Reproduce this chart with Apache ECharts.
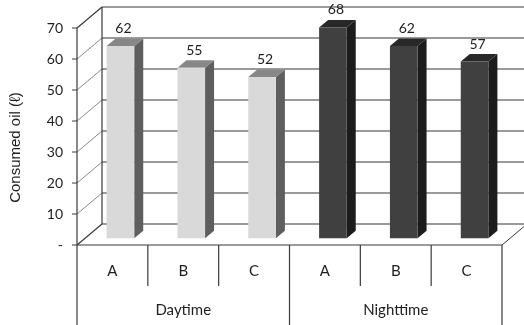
<!DOCTYPE html>
<html>
<head>
<meta charset="utf-8">
<script src="https://cdn.jsdelivr.net/npm/echarts@6/dist/echarts.min.js"></script>
<style>
  html, body { margin: 0; padding: 0; background: #ffffff; }
  #chart { width: 524px; height: 325px; }
</style>
</head>
<body>
<div id="chart"></div>
<script>
// Oil consumed per vehicle, grouped by time of day
const categories = ['A', 'B', 'C', 'A', 'B', 'C'];
const groups = ['Daytime', 'Nighttime'];
const groupSize = 3;
const consumedOil = [62, 55, 52, 68, 62, 57];
const yTicks = [0, 10, 20, 30, 40, 50, 60, 70];
const yTickLabels = ['-', '10', '20', '30', '40', '50', '60', '70'];

// 3-D look: offset of the back wall and the bar slab inside the depth
const DX = 25, DY = -21;
const BAR_W = 0.39, BAR_D0 = 0.32, BAR_D1 = 0.68;
const LABEL_FONT = 'Lato, "Open Sans", sans-serif';

const palettes = [
  { front: '#d9d9d9', side: '#5e5e5e', top: '#878787' },
  { front: '#404040', side: '#1c1c1c', top: '#282828' }
];

const chart = echarts.init(document.getElementById('chart'), null, { renderer: 'canvas' });

function renderFrame(params, api) {
  const band = api.size([1, 0])[0];
  const left = api.coord([0, 0])[0] - band / 2;
  const right = left + band * categories.length;
  const yOf = v => api.coord([0, v])[1];
  const yMin = yTicks[0], yMax = yTicks[yTicks.length - 1];
  const bottom = yOf(yMin), top = yOf(yMax);
  const children = [];
  const line = (x1, y1, x2, y2, stroke, w) => children.push({
    type: 'line', silent: true,
    shape: { x1, y1, x2, y2 },
    style: { stroke, lineWidth: w }
  });
  const DARK = '#3a3a3a', GRID = '#9a9a9a', SIDE = '#8a8a8a';

  yTicks.forEach(v => {
    const y = yOf(v);
    const edge = (v === yMin || v === yMax);
    // back wall gridline
    line(left + DX, y + DY, right + DX + 10, y + DY, v === yMax ? DARK : GRID, v === yMax ? 1.2 : 1.8);
    // side wall gridline
    line(left, y, left + DX, y + DY, edge ? DARK : SIDE, edge ? 1.2 : 1);
    // tick on the front axis
    line(left - 5, y, left, y, DARK, 1);
  });
  // back corner of the side wall
  line(left + DX, top + DY, left + DX, bottom + DY, DARK, 1.2);
  // floor
  line(left, bottom, right, bottom, DARK, 1.2);
  line(right, bottom, right + DX, bottom + DY, DARK, 1);

  // category dividers under the floor
  const inner = 286 - bottom;
  const outer = 325 - bottom;
  for (let i = 0; i <= categories.length; i++) {
    const x = left + band * i;
    const isGroupEdge = i % groupSize === 0;
    line(x, isGroupEdge && i === 0 ? top : bottom, x, bottom + (isGroupEdge ? outer : inner), DARK, 1.2);
  }
  // group names
  groups.forEach((g, gi) => {
    const cx = left + band * (gi * groupSize + groupSize / 2);
    children.push({
      type: 'text', silent: true,
      style: {
        x: cx, y: bottom + 65, text: g,
        fill: '#1e1e1e', font: '15px ' + LABEL_FONT,
        align: 'center', verticalAlign: 'middle'
      }
    });
  });
  return { type: 'group', children };
}

function renderBar(params, api) {
  const idx = api.value(0);
  const val = api.value(1);
  const band = api.size([1, 0])[0];
  const base = api.coord([idx, 0]);
  const topPt = api.coord([idx, val]);
  const w = band * BAR_W;
  const ox = DX * BAR_D0, oy = DY * BAR_D0;
  const dx = DX * (BAR_D1 - BAR_D0), dy = DY * (BAR_D1 - BAR_D0);
  const x0 = base[0] - w / 2 + ox;
  const x1 = x0 + w;
  const yb = base[1] + oy;
  const yt = topPt[1] + oy;
  const pal = palettes[Math.floor(idx / groupSize)];
  return {
    type: 'group',
    children: [
      { type: 'polygon', shape: { points: [[x1, yt], [x1, yb], [x1 + dx, yb + dy], [x1 + dx, yt + dy]] },
        style: { fill: pal.side } },
      { type: 'polygon', shape: { points: [[x0, yt], [x1, yt], [x1 + dx, yt + dy], [x0 + dx, yt + dy]] },
        style: { fill: pal.top } },
      { type: 'rect', shape: { x: x0, y: yt, width: w, height: yb - yt },
        style: { fill: pal.front } },
      { type: 'text', silent: true,
        style: {
          x: (x0 + x1) / 2 + 3, y: yt + dy - 10, text: String(val),
          fill: '#1e1e1e', font: '14px ' + LABEL_FONT,
          align: 'center', verticalAlign: 'middle'
        } }
    ]
  };
}

chart.setOption({
  animation: false,
  grid: { left: 72, right: 22, top: 28, bottom: 80 },
  xAxis: {
    type: 'category',
    data: categories,
    boundaryGap: true,
    axisLine: { show: false },
    axisTick: { show: false },
    axisLabel: { margin: 19, fontSize: 15, fontFamily: LABEL_FONT, color: '#1e1e1e' },
    splitLine: { show: false }
  },
  yAxis: {
    type: 'value',
    min: 0, max: 70, interval: 10,
    name: 'Consumed oil (ℓ)',
    nameLocation: 'middle',
    nameGap: 54,
    nameRotate: 90,
    nameTextStyle: {
      fontSize: 15, fontFamily: '"Liberation Sans", Arial, sans-serif', color: '#1e1e1e',
      padding: [0, 22, 0, 0]
    },
    axisLine: { show: false },
    axisTick: { show: false },
    splitLine: { show: false },
    axisLabel: {
      margin: 14, fontSize: 14, fontFamily: LABEL_FONT, color: '#1e1e1e',
      formatter: v => yTickLabels[yTicks.indexOf(v)]
    }
  },
  series: [
    { type: 'custom', name: 'frame', renderItem: renderFrame, data: [[0, 0]], z: 1, silent: true },
    { type: 'custom', name: 'Consumed oil', renderItem: renderBar,
      data: consumedOil.map((v, i) => [i, v]), z: 2 }
  ]
});
</script>
</body>
</html>
